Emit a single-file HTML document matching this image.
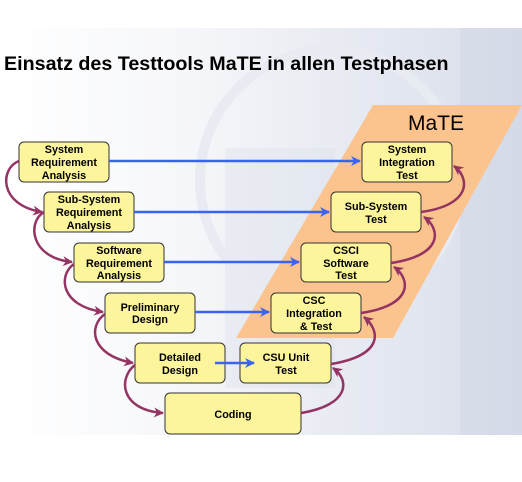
<!DOCTYPE html>
<html><head><meta charset="utf-8"><style>
body{margin:0;width:522px;height:482px;background:#fff;overflow:hidden;font-family:"Liberation Sans",sans-serif}
</style></head><body>
<svg width="522" height="482" viewBox="0 0 522 482" xmlns="http://www.w3.org/2000/svg" style="position:absolute;left:0;top:0">
<defs>
<linearGradient id="bg" x1="0" y1="0" x2="1" y2="0">
<stop offset="0" stop-color="#ffffff"/><stop offset="0.35" stop-color="#f6f7fa"/><stop offset="0.7" stop-color="#e6e9f1"/><stop offset="1" stop-color="#d9deea"/>
</linearGradient>
<marker id="bA" markerWidth="10" markerHeight="10" refX="9" refY="5" orient="auto" markerUnits="userSpaceOnUse"><path d="M0,0 L10,5 L0,10 L3,5 Z" fill="#3a64f0"/></marker>
<marker id="pA" markerWidth="10" markerHeight="10" refX="9" refY="5" orient="auto" markerUnits="userSpaceOnUse"><path d="M0,0 L10,5 L0,10 L3,5 Z" fill="#943463"/></marker>
</defs>
<rect x="0" y="28" width="522" height="407" fill="url(#bg)"/>
<rect x="225" y="148" width="110" height="240" fill="#dde1ea" opacity="0.4"/>
<rect x="460" y="28" width="62" height="407" fill="#cdd4e4" opacity="0.4"/>
<circle cx="330" cy="180" r="130" fill="none" stroke="#e8ebf2" stroke-width="10"/>
<text x="4" y="70" font-size="19.7" font-weight="bold" fill="#000">Einsatz des Testtools MaTE in allen Testphasen</text>
<polygon points="373,105 522,105 393,338 236,338" fill="#fbc48f"/>
<text x="408" y="130" font-size="21" fill="#000">MaTE</text>
<g fill="#fcf59b" stroke="#333" stroke-width="1">
<rect x="19" y="142" width="90" height="40" rx="5"/>
<rect x="44" y="192" width="90" height="40" rx="5"/>
<rect x="74" y="243" width="90" height="39" rx="5"/>
<rect x="105" y="293" width="90" height="40" rx="5"/>
<rect x="135" y="343" width="90" height="40" rx="5"/>
<rect x="165" y="393" width="136" height="41" rx="5"/>
<rect x="362" y="142" width="90" height="40" rx="5"/>
<rect x="331" y="192" width="90" height="40" rx="5"/>
<rect x="301" y="243" width="90" height="39" rx="5"/>
<rect x="271" y="293" width="90" height="40" rx="5"/>
<rect x="240" y="343" width="91" height="40" rx="5"/>
</g>
<g stroke="#3a64f0" stroke-width="2.5" fill="none" marker-end="url(#bA)">
<line x1="109" y1="161" x2="360" y2="161"/>
<line x1="134" y1="212" x2="329" y2="212"/>
<line x1="164" y1="262" x2="299" y2="262"/>
<line x1="195" y1="312" x2="269" y2="312"/>
<line x1="215" y1="363" x2="254" y2="363"/>
</g>
<g stroke="#943463" stroke-width="2.5" fill="none" marker-end="url(#pA)">
<path d="M19,161 C0,168 -2,205 42,212"/>
<path d="M44,212 C27,222 30,258 72,262"/>
<path d="M74,264 C58,275 60,306 103,312"/>
<path d="M105,314 C88,326 90,355 133,363"/>
<path d="M135,365 C118,378 120,410 163,413"/>
<path d="M301,413 C350,405 350,380 333,368"/>
<path d="M331,364 C385,355 380,330 364,317"/>
<path d="M361,313 C415,305 410,278 394,267"/>
<path d="M391,263 C445,255 440,228 424,217"/>
<path d="M421,212 C472,205 470,178 454,166"/>
</g>
<g font-size="10.8" font-weight="bold" fill="#000" text-anchor="middle">
<text x="64" y="153">System</text><text x="64" y="166">Requirement</text><text x="64" y="179">Analysis</text>
<text x="89" y="203">Sub-System</text><text x="89" y="216">Requirement</text><text x="89" y="229">Analysis</text>
<text x="119" y="254">Software</text><text x="119" y="267">Requirement</text><text x="119" y="279">Analysis</text>
<text x="150" y="311">Preliminary</text><text x="150" y="323">Design</text>
<text x="180" y="361">Detailed</text><text x="180" y="374">Design</text>
<text x="233" y="418">Coding</text>
<text x="407" y="153">System</text><text x="407" y="166">Integration</text><text x="407" y="179">Test</text>
<text x="376" y="210">Sub-System</text><text x="376" y="223">Test</text>
<text x="346" y="254">CSCI</text><text x="346" y="267">Software</text><text x="346" y="279">Test</text>
<text x="314" y="304">CSC</text><text x="314" y="317">Integration</text><text x="316" y="330">&amp; Test</text>
<text x="286" y="361">CSU Unit</text><text x="286" y="374">Test</text>
</g>
</svg>
</body></html>
